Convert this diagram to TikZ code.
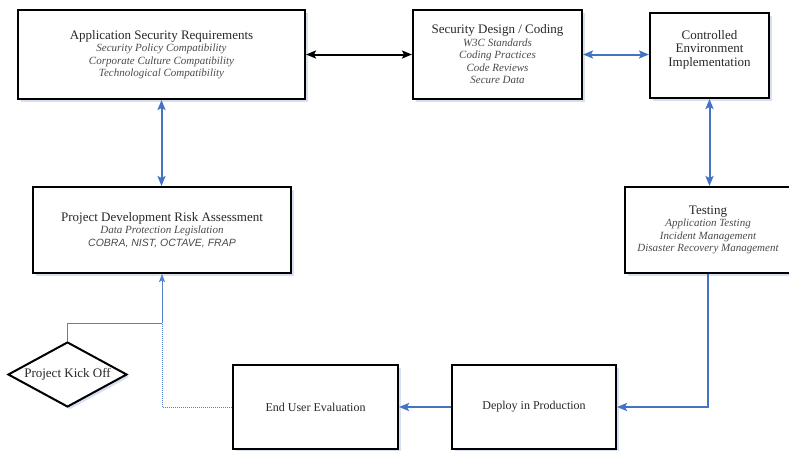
\documentclass[tikz,border=0pt]{standalone}
\usepackage{fontspec}
\setmainfont{Liberation Serif}
\newfontfamily\arialfont{Liberation Sans}
\usetikzlibrary{arrows.meta,shapes.geometric,shadows}

\definecolor{linkblue}{RGB}{68,114,196}
\definecolor{titlegray}{RGB}{40,40,40}
\definecolor{subgray}{RGB}{75,75,75}
\newcommand{\boxtitle}[2][13]{{\fontsize{#1}{14}\selectfont\upshape\color{titlegray}#2}}

\begin{document}
\begin{tikzpicture}[x=1pt,y=-1pt,
        procbox/.style={draw=black,line width=2pt,fill=white,align=center,inner sep=0pt,
            font=\fontsize{11}{12.5}\selectfont\itshape,text=subgray,
            drop shadow={shadow xshift=2.5pt,shadow yshift=-2.5pt,fill=linkblue!22,opacity=1}},
        bluelink/.style={draw=linkblue,line width=2pt},
        thinlink/.style={draw=linkblue!90,line width=1pt},
        tip/.tip={Stealth[length=10pt,width=8pt,inset=2pt]},
        smalltip/.tip={Stealth[length=8pt,width=6pt,inset=1.5pt]}]
    \useasboundingbox (0,0) rectangle (789,450);

    % boxes of the life cycle
    \node [procbox,minimum width=287pt,minimum height=89pt] (appsec) at (161.5,54.5)
        {\boxtitle{Application Security Requirements}\\Security Policy Compatibility\\
         Corporate Culture Compatibility\\Technological Compatibility};
    \node [procbox,minimum width=169pt,minimum height=89pt] (secdesign) at (497.5,54.5)
        {\boxtitle{Security Design / Coding}\\W3C Standards\\Coding Practices\\
         Code Reviews\\Secure Data};
    \node [procbox,minimum width=119pt,minimum height=85pt] (ctrlenv) at (709.5,55.5)
        {\boxtitle{Controlled}\\[1pt]\boxtitle{Environment}\\[1pt]\boxtitle{Implementation}\\[2pt]};
    \node [procbox,minimum width=258pt,minimum height=86pt] (riskassess) at (162,230)
        {\boxtitle{Project Development Risk Assessment}\\Data Protection Legislation\\
         {\arialfont\fontsize{10.5}{12.5}\selectfont COBRA, NIST, OCTAVE, FRAP}};
    \node [procbox,minimum width=166pt,minimum height=86pt] (testing) at (708,230)
        {\boxtitle{Testing}\\Application Testing\\Incident Management\\
         Disaster Recovery Management};
    \node [procbox,minimum width=164pt,minimum height=84pt] (deploy) at (534,407)
        {\boxtitle[12]{Deploy in Production}};
    \node [procbox,minimum width=165pt,minimum height=84pt] (enduser) at (315.5,407)
        {\boxtitle[12]{End User Evaluation}};
    \node [procbox,diamond,minimum width=119pt,minimum height=65pt,aspect=1.8] (kickoff)
        at (67.5,374.5) {\boxtitle{Project Kick Off}};

    \coordinate (merge) at (riskassess.south |- 0,323);

    % connectors
    \draw [{tip}-{tip},line width=2pt] (appsec) -- (secdesign);
    \draw [bluelink,{tip}-{tip}] (secdesign.east) -- (secdesign.east -| ctrlenv.west);
    \draw [bluelink,{tip}-{tip}] (appsec.south) -- (appsec.south |- riskassess.north);
    \draw [bluelink,{tip}-{tip}] (ctrlenv.south) -- (ctrlenv.south |- testing.north);
    \draw [bluelink,-{tip}] (testing.south) |- (deploy.east);
    \draw [bluelink,-{tip}] (deploy.west) -- (enduser.east);
    \draw [thinlink,densely dotted] (enduser.west) -| (merge);
    \draw [thinlink] (kickoff.north) |- (merge);
    \draw [thinlink,-{smalltip}] (merge) -- (riskassess.south);
\end{tikzpicture}
\end{document}
